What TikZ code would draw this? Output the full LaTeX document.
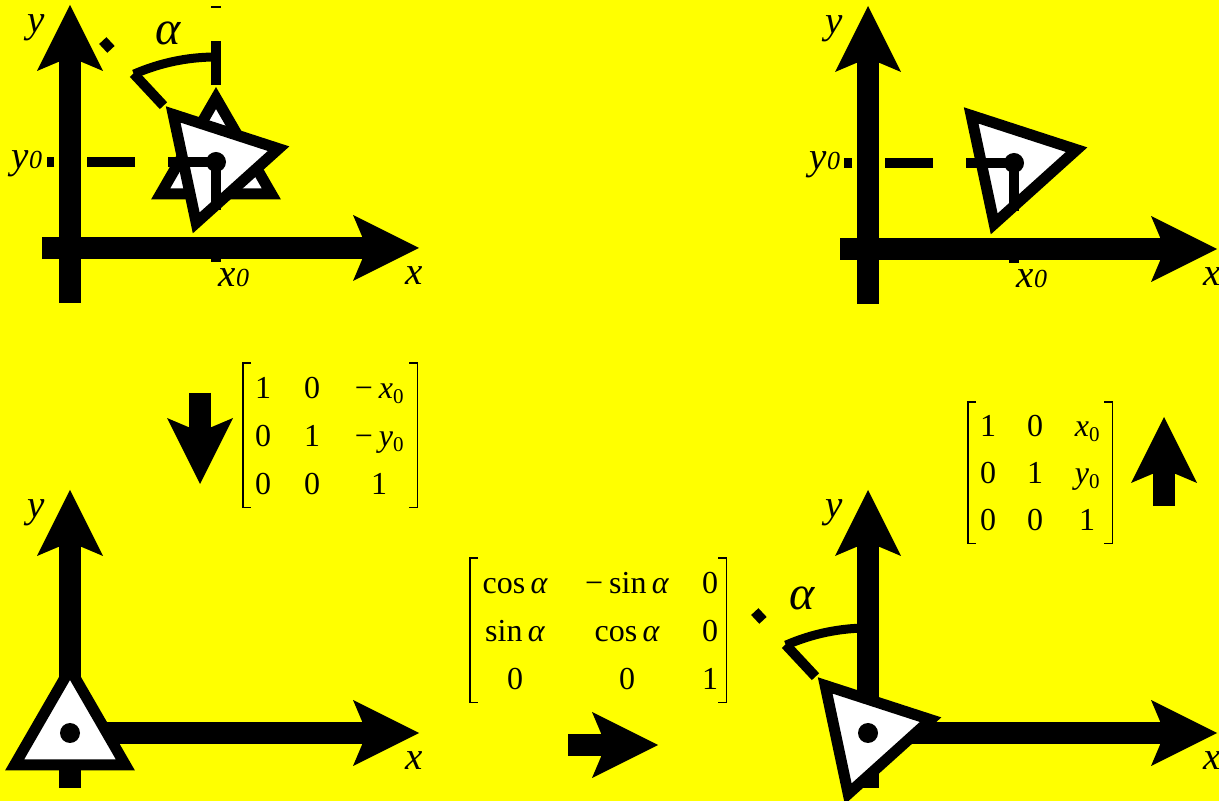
\documentclass[tikz,border=0pt]{standalone}
\usepackage{fontspec}
\setmainfont{Liberation Serif}
\usetikzlibrary{arrows.meta,matrix}

\definecolor{bgyellow}{RGB}{255,255,0}

\newcommand{\lsub}[1]{{\fontsize{26}{26}\selectfont #1}}
\newcommand{\msub}[1]{\raisebox{-5pt}{\fontsize{21}{21}\selectfont #1}}
\newcommand{\matbrackets}[1]{%
	\draw[bracket] ([xshift=8pt]#1.north west) -| (#1.south west) -- ++(8pt,0);
	\draw[bracket] ([xshift=-8pt]#1.north east) -| (#1.south east) -- ++(-8pt,0);}

\tikzset{
	axis/.style={line width=22pt, -{Stealth[length=66pt, width=66pt, inset=14pt, line width=0pt]}},
	tri/.style={draw, line width=11pt, fill=white, line join=miter},
	guide/.style={line width=10pt, dash pattern=on 48pt off 33pt},
	ray/.style={line width=10pt, dash pattern=on 44pt off 33pt},
	angarc/.style={line width=9pt},
	dot/.style={circle, fill=black, inner sep=0pt, minimum size=20pt},
	lab/.style={font=\fontsize{39}{39}\selectfont\itshape, inner sep=0pt},
	alab/.style={font=\fontsize{48}{48}\selectfont\itshape, inner sep=0pt},
	mat/.style={matrix of nodes, inner sep=0pt, anchor=north west,
		nodes={inner sep=0pt, align=center, text height=22pt, text depth=0pt, anchor=center, font=\fontsize{32}{32}\selectfont}},
	bracket/.style={line width=1.3pt},
}

\begin{document}
\begin{tikzpicture}[x=1pt, y=1pt]
	% Background
	\fill[bgyellow] (0,0) rectangle (1219,801);
	\useasboundingbox (0,0) rectangle (1219,801);

	% Panel 1: rotated about (x0,y0)
	\begin{scope}[shift={(70,553)}]
		% Axes
		\draw[axis] (-28,0) -- (349,0);
		\draw[axis] (0,-55) -- (0,243);
		\node[lab] (ya) at (-34,220) {y};
		\node[lab] (xa) at (344,-28) {x};
		\node[lab] (xza) at (164,-30) {x\lsub{0}};
		\node[lab] (yza) at (-43,84) {y\lsub{0}};
		% Angle
		\draw[ray] (146,86) -- ++(90:156);
		\draw[ray] (146,86) -- ++(133:166);
		\draw[angarc] (146,191) arc[start angle=90, end angle=113.6, radius=205];
		\node[alab] (aa) at (98,215) {α};
		% Triangles
		\begin{scope}[shift={(146,86)}]
			\draw[tri] (90:64) -- (210:64) -- (330:64) -- cycle;
			\draw[tri, rotate=42] (90:64) -- (210:64) -- (330:64) -- cycle;
		\end{scope}
		\draw[guide] (146,86) -- (-23,86);
		\draw[guide] (146,86) -- (146,-14);
		\node[dot] (pa) at (146,86) {};
	\end{scope}

	% Panel 2: result
	\begin{scope}[shift={(868,552)}]
		% Axes
		\draw[axis] (-28,0) -- (349,0);
		\draw[axis] (0,-55) -- (0,243);
		\node[lab] (yb) at (-34,220) {y};
		\node[lab] (xb) at (344,-28) {x};
		\node[lab] (xzb) at (164,-30) {x\lsub{0}};
		\node[lab] (yzb) at (-43,84) {y\lsub{0}};
		% Triangle
		\begin{scope}[shift={(146,86)}]
			\draw[tri, rotate=42] (90:64) -- (210:64) -- (330:64) -- cycle;
		\end{scope}
		\draw[guide] (146,86) -- (-24,86);
		\draw[guide] (146,86) -- (146,-14);
		\node[dot] (pb) at (146,86) {};
	\end{scope}

	% Panel 3: moved to origin
	\begin{scope}[shift={(70,68)}]
		% Axes
		\draw[axis] (-28,0) -- (349,0);
		\draw[axis] (0,-55) -- (0,243);
		\node[lab] (yc) at (-34,220) {y};
		\node[lab] (xc) at (344,-28) {x};
		% Triangle
		\draw[tri] (90:64) -- (210:64) -- (330:64) -- cycle;
		\node[dot] (pc) at (0,0) {};
	\end{scope}

	% Panel 4: rotated at origin
	\begin{scope}[shift={(868,68)}]
		% Axes
		\draw[axis] (-28,0) -- (349,0);
		\draw[axis] (0,-55) -- (0,243);
		\node[lab] (yd) at (-34,220) {y};
		\node[lab] (xd) at (344,-28) {x};
		% Angle
		\draw[ray] (0,0) -- (133:166);
		\draw[angarc] (0,105) arc[start angle=90, end angle=113.6, radius=205];
		\node[alab] (ad) at (-66,135) {α};
		% Triangle
		\draw[tri, rotate=42] (90:64) -- (210:64) -- (330:64) -- cycle;
		\node[dot] (pd) at (0,0) {};
	\end{scope}

	% Matrices
	\matrix[mat, nodes={minimum height=48pt},
		column 1/.style={nodes={text width=40pt}},
		column 2/.style={nodes={text width=58pt}},
		column 3/.style={nodes={text width=76pt}}] (mtrans) at (243,438) {
		1 & 0 & −\hspace{6pt}\textit{x}\msub{0} \\
		0 & 1 & −\hspace{6pt}\textit{y}\msub{0} \\
		0 & 0 & 1 \\
	};
	\matbrackets{mtrans}
	\matrix[mat, nodes={minimum height=48pt},
		column 1/.style={nodes={text width=90pt}},
		column 2/.style={nodes={text width=134pt}},
		column 3/.style={nodes={text width=32pt}}] (mrot) at (470,243) {
		cos\,\textit{α} & −\hspace{6pt}sin\,\textit{α} & 0 \\
		sin\,\textit{α} & cos\,\textit{α} & 0 \\
		0 & 0 & 1 \\
	};
	\matbrackets{mrot}
	\matrix[mat, nodes={minimum height=47pt},
		column 1/.style={nodes={text width=40pt}},
		column 2/.style={nodes={text width=54pt}},
		column 3/.style={nodes={text width=50pt}}] (mback) at (968,399) {
		1 & 0 & \textit{x}\msub{0} \\
		0 & 1 & \textit{y}\msub{0} \\
		0 & 0 & 1 \\
	};
	\matbrackets{mback}

	% Step arrows
	\draw[axis] (200,408) -- (200,317);
	\draw[axis] (568,56) -- (658,56);
	\draw[axis] (1164,295) -- (1164,384);
\end{tikzpicture}
\end{document}
